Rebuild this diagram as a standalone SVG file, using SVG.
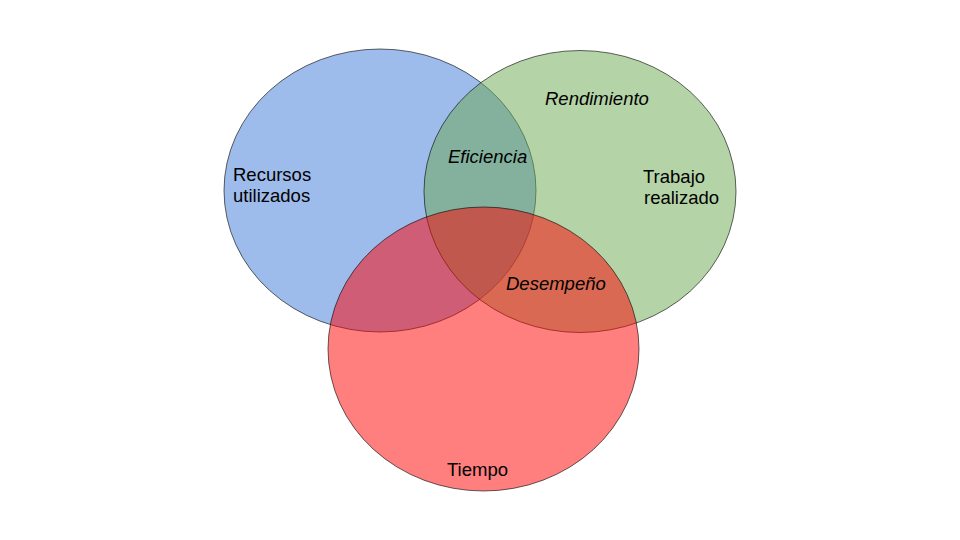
<svg xmlns="http://www.w3.org/2000/svg" width="960" height="540" viewBox="0 0 960 540">
<style>
.c{stroke:#000;stroke-opacity:0.6;stroke-width:1}
.t{font-family:"Liberation Sans",Arial,sans-serif;font-size:18.5px;fill:#000}
.i{font-style:italic}
</style>
<rect width="960" height="540" fill="#fff"/>
<g id="recursos">
<ellipse class="c" cx="380" cy="190.5" rx="156" ry="141.5" fill="#3c78d8" fill-opacity="0.5"/>
</g>
<g id="trabajo">
<ellipse class="c" cx="580" cy="191.5" rx="156" ry="141" fill="#6aa84f" fill-opacity="0.5"/>
</g>
<g id="tiempo">
<ellipse class="c" cx="483.5" cy="349" rx="155.5" ry="142" fill="#ff0000" fill-opacity="0.5"/>
</g>
<g id="labels">
<text class="t" x="233" y="180.5">Recursos</text>
<text class="t" x="233" y="201.5">utilizados</text>
<text class="t i" x="545" y="105">Rendimiento</text>
<text class="t i" x="448" y="163">Eficiencia</text>
<text class="t" x="643" y="182.5">Trabajo</text>
<text class="t" x="644" y="203.5">realizado</text>
<text class="t i" x="506" y="290">Desempeño</text>
<text class="t" x="447" y="476">Tiempo</text>
</g>
</svg>
